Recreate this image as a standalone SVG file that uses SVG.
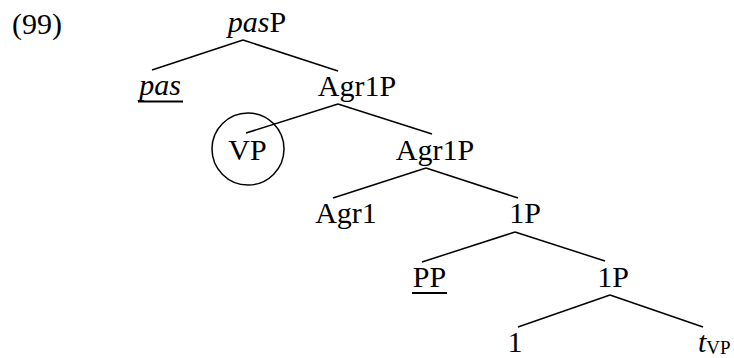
<svg xmlns="http://www.w3.org/2000/svg" width="734" height="358" viewBox="0 0 734 358" font-family="'Liberation Serif', 'DejaVu Serif', serif" font-size="30">
<style>
text { font-family: 'Liberation Serif', 'DejaVu Serif', serif; font-size: 30px; fill: #000; }
.it { font-style: italic; }
.sub { font-size: 19px; }
.edge { stroke: #000; stroke-width: 1.5; fill: none; }
.ul { stroke: #000; stroke-width: 1.8; }
</style>
<rect width="734" height="358" fill="#fff"/>
<text id="label" x="12" y="34">(99)</text>
<g id="connectors">
  <line class="edge" x1="243" y1="40" x2="152" y2="70"/>
  <line class="edge" x1="243" y1="40" x2="338" y2="71"/>
  <line class="edge" x1="338" y1="104" x2="246" y2="133"/>
  <line class="edge" x1="338" y1="104" x2="432" y2="134"/>
  <line class="edge" x1="426" y1="168" x2="333" y2="198"/>
  <line class="edge" x1="426" y1="168" x2="518" y2="198"/>
  <line class="edge" x1="515" y1="232" x2="422" y2="262"/>
  <line class="edge" x1="515" y1="232" x2="605" y2="261"/>
  <line class="edge" x1="610" y1="295" x2="518" y2="327"/>
  <line class="edge" x1="610" y1="295" x2="703" y2="327"/>
</g>
<g id="pasP"><text x="257" y="32" text-anchor="middle"><tspan class="it">pas</tspan>P</text></g>
<g id="pas"><text class="it" x="160" y="95" text-anchor="middle">pas</text><line class="ul" x1="138" y1="101.5" x2="183" y2="101.5"/></g>
<g id="Agr1P-1"><text x="357" y="96" text-anchor="middle">Agr1P</text></g>
<g id="VP"><circle class="edge" cx="248" cy="149" r="36"/><text x="247.5" y="160" text-anchor="middle">VP</text></g>
<g id="Agr1P-2"><text x="435" y="160" text-anchor="middle">Agr1P</text></g>
<g id="Agr1"><text x="346" y="223" text-anchor="middle">Agr1</text></g>
<g id="oneP-1"><text x="525" y="223" text-anchor="middle">1P</text></g>
<g id="PP"><text x="429.5" y="287" text-anchor="middle">PP</text><line class="ul" x1="412" y1="293" x2="447" y2="293"/></g>
<g id="oneP-2"><text x="613" y="287" text-anchor="middle">1P</text></g>
<g id="one"><text x="515" y="352" text-anchor="middle">1</text></g>
<g id="tVP"><text x="698" y="352"><tspan class="it">t</tspan><tspan class="sub" dy="2">VP</tspan></text></g>
</svg>
